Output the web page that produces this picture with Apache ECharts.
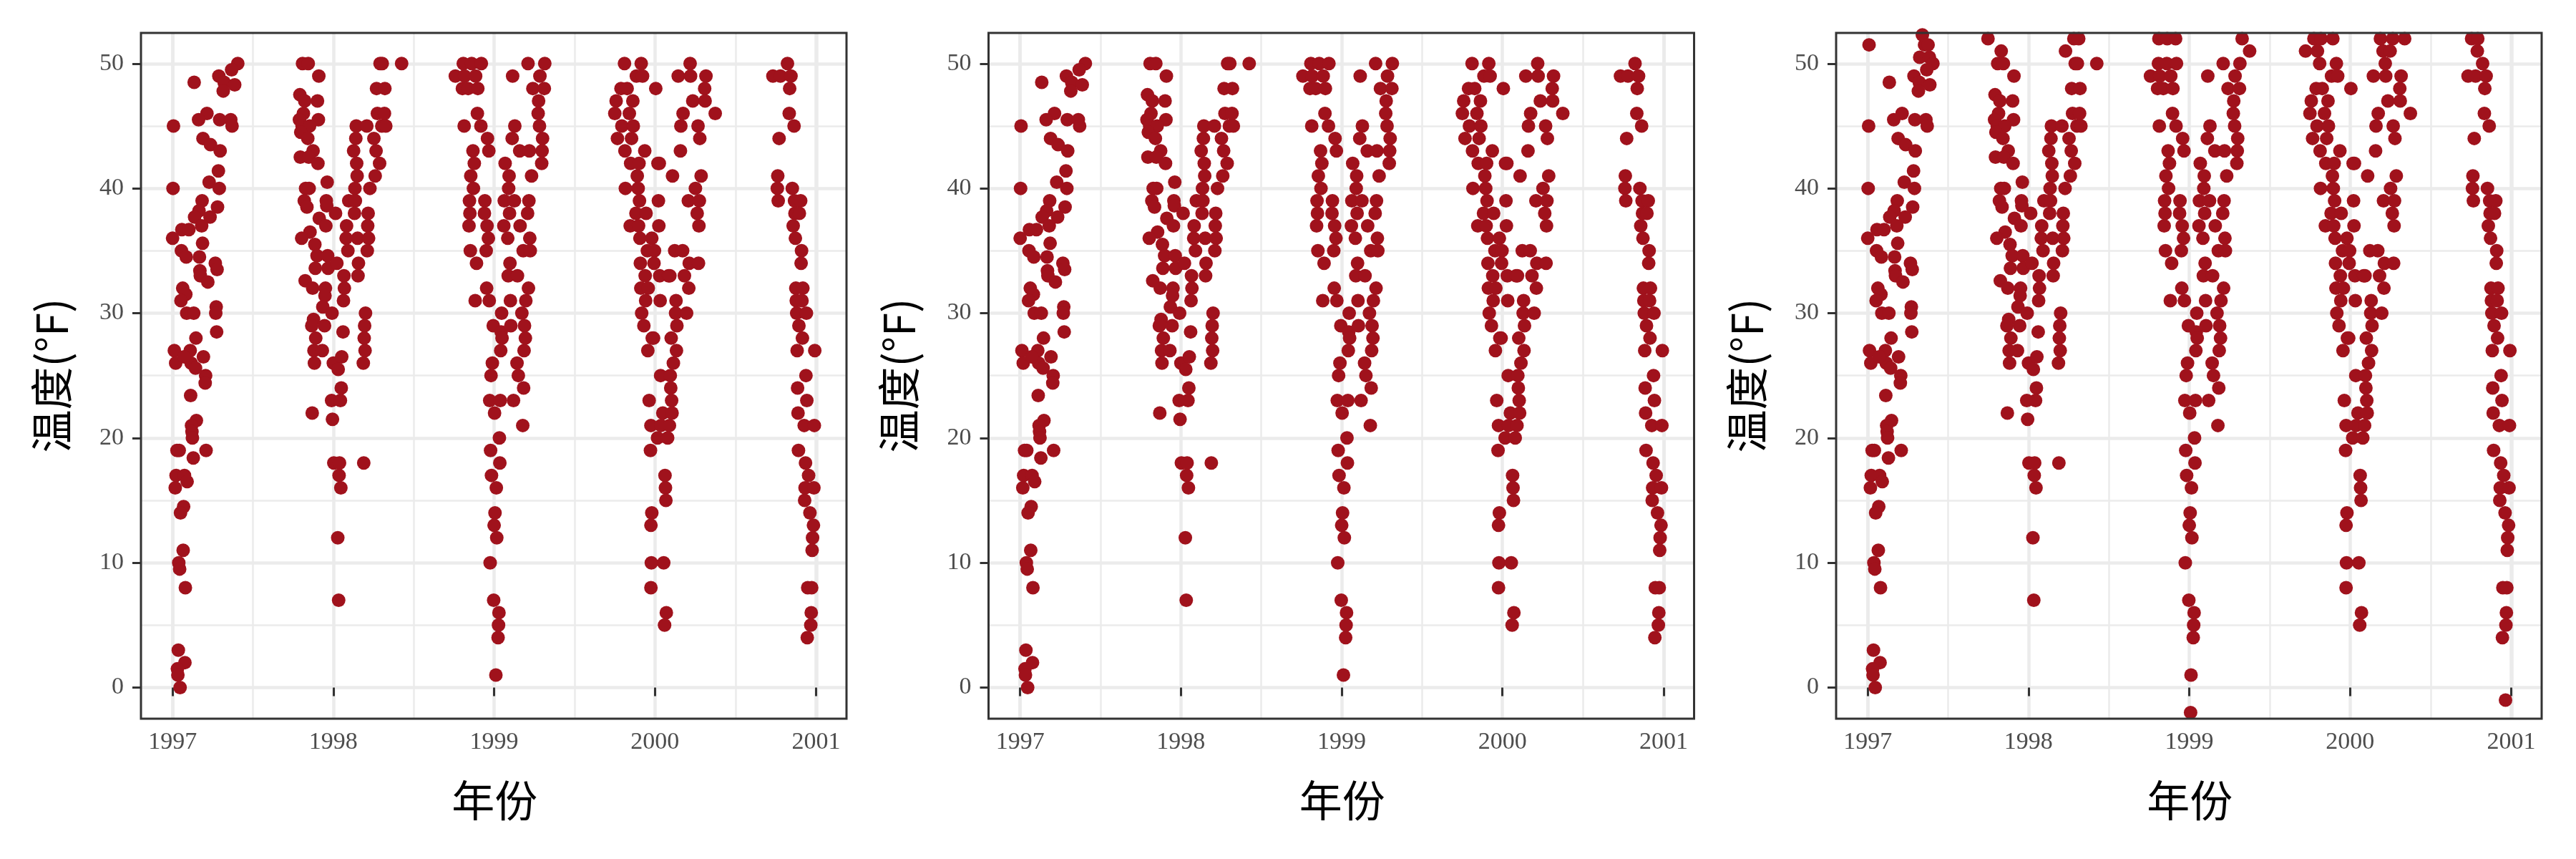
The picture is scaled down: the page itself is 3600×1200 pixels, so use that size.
<!DOCTYPE html>
<html>
<head>
<meta charset="utf-8">
<script src="https://cdn.jsdelivr.net/npm/echarts@6/dist/echarts.min.js"></script>
<style>
html,body{margin:0;padding:0;background:#ffffff;}
#chart{width:3600px;height:1200px;}
</style>
</head>
<body>
<div id="chart"></div>
<script>
// ---------------- DATA ----------------
// Winter / spring 1997
const dates1997 = ['1997-01-04','1997-02-19','1997-01-03','1997-01-02','1997-01-01','1997-05-05','1997-05-10','1997-05-18','1997-04-29','1997-05-21',
'1997-05-29','1997-05-15','1997-04-16','1997-04-28','1997-05-22','1997-04-26','1997-03-20','1997-03-01','1997-04-18','1997-05-13',
'1997-05-16','1997-03-11','1997-03-28','1997-04-19','1997-04-15','1997-03-25','1997-04-17','1997-03-09','1997-04-13','1997-03-02',
'1997-02-20','1997-03-27','1997-03-08','1997-01-22','1997-02-07','1997-03-10','1997-01-21','1997-02-01','1997-03-03','1997-04-08',
'1997-04-12','1997-03-04','1997-03-05','1997-03-22','1997-01-24','1997-01-31','1997-01-20','1997-02-02','1997-02-18','1997-04-10',
'1997-04-09','1997-02-23','1997-04-11','1997-01-05','1997-02-10','1997-03-12','1997-01-08','1997-02-12','1997-02-22','1997-03-17',
'1997-01-27','1997-03-16','1997-02-11','1997-02-24','1997-02-13','1997-02-14','1997-02-15','1997-01-11','1997-01-16','1997-03-18',
'1997-02-17','1997-01-09','1997-01-28','1997-02-03','1997-01-07','1997-01-26','1997-01-19','1997-01-25','1997-01-15','1997-01-17',
'1997-01-30','1997-01-14','1997-01-29','1997-01-12','1997-01-13','1997-01-18'];
const temps1997 = [51.5,48.5,45,40,36,52.3,51.5,51.5,50.5,50.5,
50,49.5,49,48.5,48.3,47.8,46,45.5,45.5,45.5,
45,44,43.5,43,41.4,40.5,40,39,38.5,38.2,
37.7,37.7,37,36.7,36.7,35.6,35,34.5,34.5,34,
33.5,33.4,33,32.5,32,31.5,31,30,30,30.5,
30,28,28.5,27,27,26.5,26,26,25.6,25,
26.5,24.4,23.4,21.4,21,20.5,20,19,19,19,
18.4,17,17,16.5,16,14.5,14,11,10,9.5,
8,3,2,1.5,1,0];

// Autumn 1997 - spring 1998
const dates1998 = ['1997-10-01','1997-10-31','1997-10-23','1997-11-05','1997-11-29','1997-10-17','1997-10-28','1997-11-26','1997-10-25','1997-10-16',
'1997-11-28','1997-10-22','1997-11-08','1997-10-19','1997-11-04','1997-11-16','1997-10-18','1997-11-06','1997-11-27','1997-12-18',
'1997-10-30','1997-11-07','1997-10-27','1997-11-02','1997-12-16','1997-12-17','1998-01-06','1997-11-30','1997-12-15','1997-11-09',
'1997-10-21','1997-11-20','1997-11-25','1997-12-19','1997-11-21','1997-12-20','1998-01-09','1997-10-29','1997-11-15','1997-12-14',
'1997-12-13','1997-12-08','1997-12-29','1997-11-17','1997-11-13','1997-12-12','1998-01-23','1997-11-22','1997-11-18','1997-12-07',
'1997-11-19','1998-01-01','1998-01-20','1998-01-12',
'1998-04-14','1998-04-25','1998-03-26','1998-04-17','1998-04-22','1998-06-05','1998-04-09','1998-04-28','1998-04-11','1998-04-27',
'1998-04-21','1998-04-30','1998-02-22','1998-03-18','1998-02-21','1998-04-03','1998-02-16','1998-04-08','1998-02-23','1998-04-16',
'1998-02-24','1998-04-06','1998-02-19','1998-03-25','1998-02-05','1998-02-20','1998-02-18','1998-03-21','1998-01-31','1998-03-20',
'1998-01-30','1998-02-25','1998-03-22','1998-02-03','1998-03-19','1998-02-27','1998-01-25','1998-02-26','1998-01-26','1998-01-24',
'1998-03-15','1998-03-13','1998-03-12','1998-03-14','1998-03-10',
'1998-01-19','1997-12-28','1998-01-17','1997-11-14','1997-12-30','1998-01-02','1998-01-15','1998-03-11','1998-01-14','1998-01-18',
'1998-01-11','1998-01-13'];
const temps1998 = [52,51,50,50,49,47.5,47,47,46,45.5,
45.5,45,45,44.5,44,43,42.5,42.5,42,40.5,
40,40,39,38.5,39,38.6,38,37.6,37,36.5,
36,35.5,34.6,34.6,33.6,33.6,34,32.6,32,32,
31.4,30.5,30,29.5,29,29,28.5,28,27,27,
26,26,26.5,25.5,
52,52,51,50,50,50,48,48,46,46,
45,45,45,45,44,44,43,43,42,42,
41,41,40,40,39,39,38,38,37,37,
36,36,36,35,35,34,33,33,32,31,
30,29,28,27,26,
24,23,23,22,21.5,18,18,18,17,16,
12,7];

// Autumn 1998 - spring 1999
const dates1999 = ['1998-10-24','1998-11-12','1998-12-01','1998-10-23','1998-11-11','1998-12-03','1998-10-05','1998-10-26','1998-11-20','1998-10-21',
'1998-11-03','1998-11-25','1998-11-24','1998-10-25','1998-12-02','1998-12-17','1998-11-14','1998-12-20','1998-11-17','1998-11-09',
'1998-11-15','1998-11-06','1998-12-11','1998-11-07','1998-12-10','1998-11-05','1998-12-16','1998-12-19','1998-12-14','1998-11-08',
'1998-11-22','1998-12-15','1998-11-19','1998-12-21','1999-01-18','1998-12-30','1999-01-17','1999-01-19','1999-01-16','1998-12-28',
'1998-12-25',
'1999-05-01','1999-05-18','1999-03-19','1999-04-26','1999-02-12','1999-04-15','1999-03-30','1999-04-25','1999-04-12','1999-04-11',
'1999-02-17','1999-04-14','1999-02-11','1999-04-21','1999-02-28','1999-03-22','1999-04-20','1999-01-26','1999-04-19','1999-03-27',
'1999-02-04','1999-02-03','1999-01-24','1999-02-16','1999-03-21','1999-02-05','1999-03-18','1999-01-23','1999-03-01','1999-02-01',
'1999-03-23','1999-03-08','1999-03-24','1999-02-06','1999-02-02','1999-02-23','1999-03-20','1999-02-07','1999-03-14','1999-03-05',
'1999-02-08','1999-03-11','1999-03-13','1999-03-10','1999-02-22','1999-02-25',
'1999-03-09','1998-12-22','1999-01-15','1999-02-14','1999-01-02','1999-03-07','1999-01-13','1998-12-24','1999-01-14','1998-12-26',
'1999-01-06','1999-01-03','1999-01-01','1999-01-07','1998-12-23','1998-12-31','1999-01-12','1999-01-11','1999-01-10','1999-01-05',
'1999-01-04'];
const temps1999 = [52,52,52,50,50,50,49,49,49,48,
48,48,46,45,45,44,43,43,42,41,
40,39,39,38,38,37,37,36,35,35,
34,32,31,31,30,29,28.5,28,27,26,
25,
52,51,50,50,49,49,48,48,47,46,
45,45,44,44,43,43,43,42,42,41,
41,40,39,39,39,38,38,37,37,36,
36,35,35,34,33,33,32,31,31,30,
29,29,28,27,26,25,
24,23,23,23,22,21,20,19,18,17,
16,14,13,12,10,7,6,5,4,1,
-2];

// Autumn 1999 - spring 2000
const dates2000 = ['1999-10-11','1999-10-27','1999-11-23','1999-09-22','1999-10-19','1999-10-24','1999-12-01','1999-11-20','1999-12-04','1999-10-16',
'1999-10-30','2000-01-03','1999-10-05','1999-11-12','1999-10-02','1999-11-04','1999-10-18','1999-11-13','1999-10-08','1999-11-09',
'1999-10-25','1999-12-09','1999-11-07','1999-11-26','2000-01-08','2000-01-11','1999-11-22','2000-02-10','1999-10-26','1999-11-24',
'1999-11-27','2000-01-09','1999-11-19','1999-12-12','1999-11-06','1999-11-25','2000-01-10','1999-11-28','1999-12-25','1999-12-15',
'1999-12-31','1999-11-29','1999-12-30','1999-12-10','2000-01-12','2000-02-01','1999-11-30','1999-12-17','1999-12-11','2000-01-13',
'1999-12-02','1999-12-07','1999-12-26','1999-12-16',
'2000-03-10','2000-04-07','2000-05-04','2000-03-16','2000-04-01','2000-03-21','2000-02-23','2000-03-22','2000-04-26','2000-04-23',
'2000-03-27','2000-04-24','2000-03-05','2000-05-17','2000-02-29','2000-04-08','2000-04-12','2000-02-28','2000-04-15','2000-04-02',
'2000-03-17','2000-04-11','2000-04-06','2000-04-10','2000-02-15','2000-03-04','2000-03-19','2000-04-09','2000-02-04','2000-03-08',
'2000-03-18','2000-02-18','2000-02-17','2000-03-13','2000-02-20','2000-02-07','1999-12-29','2000-02-19','2000-02-12','2000-01-14',
'2000-02-05',
'2000-02-06','1999-12-19','2000-02-08','2000-01-19','2000-02-09','1999-12-23','2000-01-15','2000-02-03','2000-01-07','2000-01-30',
'1999-12-22','2000-01-24','2000-01-25','2000-01-26','1999-12-25','1999-12-23','1999-12-24','2000-01-21','1999-12-23','2000-01-27',
'2000-01-23'];
const temps2000 = [52,52,52,51,51,50,50,49,49,48,
48,48,47,47,46,46,45,45,44,44,
43,43,42,42,42,42,41,41,40,40,
39,39,38,38,37,37,37,36,36,35,
35,34,34,33,33,33,32,32,31,31,
30,29,28,27,
52,52,52,51,51,50,49,49,49,48,
47,47,46,46,45,45,44,43,41,40,
39,39,38,37,35,35,34,34,33,33,
32,31,30,30,29,28,28,27,26,25,
25,
24,23,23,22,22,21,21,21,20,20,
19,17,16,15,14,13,10,10,8,6,
5];

// Autumn 2000
const dates2001 = ['2000-10-03','2000-10-17','2000-10-16','2000-10-28','2000-09-25','2000-10-12','2000-11-05','2000-11-02','2000-11-01','2000-11-12',
'2000-10-09','2000-10-06','2000-10-05','2000-11-08','2000-10-07','2000-11-13','2000-11-27','2000-11-14','2000-11-24','2000-11-10',
'2000-11-15','2000-11-29','2000-11-28','2000-11-16','2000-12-02','2000-11-17','2000-11-30','2000-11-18','2000-12-10','2000-11-23',
'2000-12-01','2000-11-19','2000-12-29','2000-12-09','2000-11-20','2000-12-11','2000-11-21','2000-12-05','2000-12-28','2000-11-22',
'2000-12-08','2000-12-15','2000-12-07','2000-12-27','2000-12-06','2000-12-18','2000-12-26','2000-12-24','2000-12-23','2000-12-13',
'2000-12-22','2000-12-21','2000-12-20','2000-12-12','2000-12-19'];
const temps2001 = [52,52,51,50,49,49,49,48,46,45,
44,41,40,40,39,39,39,38,38,37,
36,35,34,32,32,31,31,30,30,29,
28,27,27,25,24,23,22,21,21,19,
18,17,16,16,15,14,13,12,11,8,
8,6,5,4,-1];

// Axis ticks / texts
const yTicks = [0, 10, 20, 30, 40, 50];
const xTickYears = [1997, 1998, 1999, 2000, 2001];
const xTitle = '年份';
const yTitle = '温度(°F)';
const yLimits = [0, 50];

// ---------------- BUILD ----------------
const allDates = [].concat(dates1997, dates1998, dates1999, dates2000, dates2001);
const allTemps = [].concat(temps1997, temps1998, temps1999, temps2000, temps2001);
const allPoints = allDates.map((d, i) => [d, allTemps[i]]);
// scale limits drop out-of-range observations (panels 1 & 2)
const limitedPoints = allPoints.filter(p => p[1] >= yLimits[0] && p[1] <= yLimits[1]);

const DAY_MS = 24 * 3600 * 1000;
const X_MIN = new Date(xTickYears[0], 0, 1).getTime();
// one extra day so the last year tick lies strictly inside the axis extent
const X_MAX = new Date(xTickYears[xTickYears.length - 1], 0, 2).getTime();
const YEAR_MS = 365 * DAY_MS;

const PX_PER_DAY = 0.6155;
const PANEL_LEFT = [197, 1381.5, 2566];
const INNER_LEFT = [241.2, 1425.7, 2610.2];
const PANEL_TOP = 46, PANEL_W = 986, PANEL_H = 958;
const INNER_W = 899.3 + PX_PER_DAY;
const DATA_TOP = 45.2, DATA_H = 958.9;
const YIN_TOP = 88.8, YIN_H = 871.7;

const serif = "'Liberation Serif', 'DejaVu Serif', serif";
const cjk = "'Noto Sans CJK SC', 'Noto Sans', sans-serif";
const tickStyle = { color: '#333333', width: 3 };
const gridMajor = { color: '#EBEBEB', width: 4.5, type: 'solid' };
const gridMinor = { color: '#EBEBEB', width: 2.5, type: 'solid' };

const grids = [], xAxes = [], yAxes = [], series = [];
for (let p = 0; p < 3; p++) {
  const g0 = 3 * p;
  // panel frame
  grids.push({ left: PANEL_LEFT[p], top: PANEL_TOP, width: PANEL_W, height: PANEL_H, show: true,
    borderColor: '#333333', borderWidth: 3, backgroundColor: 'transparent', containLabel: false, outerBoundsMode: 'none', z: 5 });
  // data grid (x: 1997..2001, y: full expanded range)
  grids.push({ left: INNER_LEFT[p], top: DATA_TOP, width: INNER_W, height: DATA_H, show: false, containLabel: false, outerBoundsMode: 'none' });
  // y guide grid (x: full panel, y: 0..50 exactly)
  grids.push({ left: PANEL_LEFT[p], top: YIN_TOP, width: PANEL_W, height: YIN_H, show: false, containLabel: false, outerBoundsMode: 'none' });

  xAxes.push({ gridIndex: g0, type: 'value', min: 0, max: 1, show: false });
  yAxes.push({ gridIndex: g0, type: 'value', min: 0, max: 1, show: false });

  xAxes.push({
    gridIndex: g0 + 1, type: 'time', min: X_MIN, max: X_MAX, splitNumber: 4, minInterval: YEAR_MS,
    axisLine: { show: false },
    axisTick: { show: true, length: 12, lineStyle: tickStyle },
    axisLabel: { show: true, margin: 16, fontFamily: serif, fontSize: 34, color: '#4D4D4D',
      formatter: v => String(new Date(v).getFullYear()) },
    splitLine: { show: true, lineStyle: gridMajor },
    minorTick: { show: false, splitNumber: 2 },
    minorSplitLine: { show: true, lineStyle: gridMinor },
    name: xTitle, nameLocation: 'middle', nameGap: 84,
    nameTextStyle: { fontFamily: cjk, fontSize: 60, color: '#000000' }
  });
  yAxes.push({ gridIndex: g0 + 1, type: 'value', min: -2.5, max: 52.5, show: false });

  xAxes.push({ gridIndex: g0 + 2, type: 'value', min: 0, max: 1, show: false });
  yAxes.push({
    gridIndex: g0 + 2, type: 'value', min: yTicks[0], max: yTicks[yTicks.length - 1], interval: yTicks[1] - yTicks[0],
    axisLine: { show: false },
    axisTick: { show: true, length: 12, lineStyle: tickStyle },
    axisLabel: { show: true, margin: 24, fontFamily: serif, fontSize: 34, color: '#4D4D4D' },
    splitLine: { show: true, lineStyle: gridMajor },
    minorTick: { show: false, splitNumber: 2 },
    minorSplitLine: { show: true, lineStyle: gridMinor },
    name: yTitle, nameLocation: 'middle', nameGap: 95,
    nameTextStyle: { fontFamily: cjk, fontSize: 60, color: '#000000' }
  });

  series.push({
    type: 'scatter', xAxisIndex: g0 + 1, yAxisIndex: g0 + 1,
    data: p < 2 ? limitedPoints : allPoints,
    symbol: 'circle', symbolSize: 19,
    itemStyle: { color: '#A0121C', opacity: 1 },
    clip: true, silent: true, z: 3
  });
}

const chart = echarts.init(document.getElementById('chart'), null, { renderer: 'canvas', width: 3600, height: 1200 });
chart.setOption({
  animation: false,
  backgroundColor: '#ffffff',
  grid: grids, xAxis: xAxes, yAxis: yAxes, series: series
});
</script>
</body>
</html>
